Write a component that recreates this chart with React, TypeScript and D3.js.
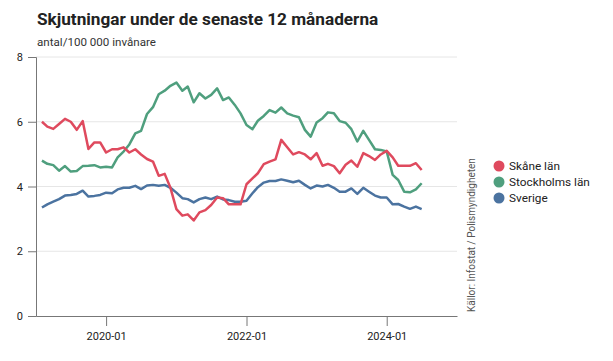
import { useRef, useEffect } from 'react';
import * as d3 from 'd3';

const START = '2019-02';
const SKANE = [
  6.0, 5.85, 5.78, 5.93, 6.09, 6.0, 5.75, 6.02, 5.16, 5.36, 5.36, 5.05, 5.15, 5.15, 5.21, 5.05,
  5.15, 4.99, 4.85, 4.77, 4.33, 4.39, 3.96, 3.3, 3.1, 3.14, 2.95, 3.2, 3.27, 3.43, 3.66, 3.64,
  3.45, 3.45, 3.45, 4.07, 4.25, 4.41, 4.69, 4.77, 4.84, 5.44, 5.21, 4.99, 5.06, 4.99, 4.84, 5.03,
  4.64, 4.7, 4.63, 4.41, 4.67, 4.8, 4.61, 5.03, 4.94, 4.82, 4.99, 5.1, 4.9, 4.64, 4.64, 4.64,
  4.72, 4.51,
];
const STOCKHOLM = [
  4.8, 4.7, 4.66, 4.49, 4.63, 4.46, 4.48, 4.63, 4.64, 4.66, 4.59, 4.61, 4.59, 4.9, 5.08, 5.3,
  5.64, 5.72, 6.24, 6.45, 6.85, 6.96, 7.11, 7.21, 6.96, 7.09, 6.6, 6.88, 6.72, 6.83, 7.03, 6.67,
  6.75, 6.52, 6.26, 5.9, 5.77, 6.03, 6.18, 6.36, 6.28, 6.44, 6.26, 6.19, 6.14, 5.75, 5.54, 5.98,
  6.11, 6.29, 6.26, 6.02, 5.97, 5.77, 5.39, 5.72, 5.44, 5.15, 5.13, 5.08, 4.36, 4.2, 3.84, 3.82,
  3.91, 4.1,
];
const SVERIGE = [
  3.35, 3.45, 3.53, 3.61, 3.72, 3.74, 3.77, 3.87, 3.69, 3.71, 3.74, 3.81, 3.79, 3.91, 3.96, 3.96,
  4.02, 3.92, 4.03, 4.05, 4.02, 4.05, 3.96, 3.81, 3.64, 3.61, 3.51, 3.61, 3.66, 3.61, 3.69, 3.6,
  3.58, 3.53, 3.53, 3.56, 3.79, 3.98, 4.12, 4.17, 4.17, 4.22, 4.18, 4.13, 4.18, 4.05, 3.94, 4.03,
  4.0, 4.05, 3.96, 3.84, 3.84, 3.94, 3.77, 3.96, 3.84, 3.72, 3.66, 3.66, 3.45, 3.46, 3.38, 3.31,
  3.38, 3.3,
];
const SERIES = [
  { name: 'Skåne län', color: '#df4a5e', values: SKANE },
  { name: 'Stockholms län', color: '#4f9f7e', values: STOCKHOLM },
  { name: 'Sverige', color: '#4b73a0', values: SVERIGE },
];
const Y_TICKS = [0, 2, 4, 6, 8];
const X_TICKS = ['2020-01', '2022-01', '2024-01'];

const FONT = 'Roboto, "Noto Sans", sans-serif';

export default function App() {
  const svgRef = useRef<SVGSVGElement>(null);

  useEffect(() => {
    const svg = d3.select(svgRef.current);
    svg.selectAll('*').remove();

    const width = 613;
    const height = 361;
    const margin = { top: 57, left: 36, right: 156, bottom: 45 };
    const parse = d3.timeParse('%Y-%m');
    const start = parse(START)!;
    const dates = SKANE.map((_, i) => d3.timeMonth.offset(start, i));

    const x = d3.scaleTime()
      .domain([parse('2019-01')!, parse('2025-01')!])
      .range([margin.left, width - margin.right]);
    const y = d3.scaleLinear().domain([0, 8]).range([height - margin.bottom, margin.top]);
    const bottom = y(0);

    svg.attr('width', width).attr('height', height).style('font-family', FONT);

    // title
    svg.append('text')
      .attr('x', 37).attr('y', 25)
      .attr('font-size', 17.2).attr('font-weight', 700).attr('fill', '#222')
      .text('Skjutningar under de senaste 12 månaderna');
    svg.append('text')
      .attr('x', 37).attr('y', 46)
      .attr('font-size', 11.6).attr('fill', '#333')
      .text('antal/100 000 invånare');

    // grid
    svg.append('g')
      .selectAll('line')
      .data(Y_TICKS.filter((d) => d > 0))
      .join('line')
      .attr('x1', margin.left).attr('x2', width - margin.right)
      .attr('y1', (d) => y(d)).attr('y2', (d) => y(d))
      .attr('stroke', '#e6e6e6');

    // axes
    svg.append('g')
      .attr('transform', `translate(${margin.left},0)`)
      .call(d3.axisLeft(y).tickValues(Y_TICKS).tickSize(8).tickPadding(5).tickFormat(d3.format('d')))
      .call((g) => g.selectAll('line, path').attr('stroke', '#777'))
      .call((g) => g.selectAll('text').attr('fill', '#222').style('font-size', '11px').style('font-family', FONT));

    svg.append('g')
      .attr('transform', `translate(0,${bottom})`)
      .call(
        d3.axisBottom(x)
          .tickValues(X_TICKS.map((t) => parse(t)!))
          .tickSize(10)
          .tickSizeOuter(0)
          .tickPadding(6)
          .tickFormat(d3.timeFormat('%Y-%m') as any)
      )
      .call((g) => g.selectAll('line, path').attr('stroke', '#777'))
      .call((g) => g.selectAll('text').attr('fill', '#222').style('font-size', '11px').style('font-family', FONT));

    // lines
    const line = d3.line<number>()
      .x((_, i) => x(dates[i]))
      .y((d) => y(d));
    SERIES.slice().reverse().forEach((s) => {
      svg.append('path')
        .datum(s.values)
        .attr('fill', 'none')
        .attr('stroke', s.color)
        .attr('stroke-width', 2.5)
        .attr('stroke-linejoin', 'round')
        .attr('d', line);
    });

    // source
    svg.append('text')
      .attr('transform', 'translate(475,312) rotate(-90)')
      .attr('font-size', 10).attr('fill', '#555')
      .text('Källor: Infostat / Polismyndigheten');

    // legend
    const lg = svg.append('g').attr('transform', 'translate(499,166)');
    SERIES.forEach((s, i) => {
      const row = lg.append('g').attr('transform', `translate(0,${i * 16})`);
      row.append('circle').attr('r', 5.5).attr('fill', s.color);
      row.append('text')
        .attr('x', 10).attr('dy', '0.35em')
        .attr('font-size', 11.8).attr('fill', '#222')
        .text(s.name);
    });
  }, []);

  return <svg ref={svgRef} style={{ display: 'block', position: 'absolute', left: 0, top: 0 }} />;
}
